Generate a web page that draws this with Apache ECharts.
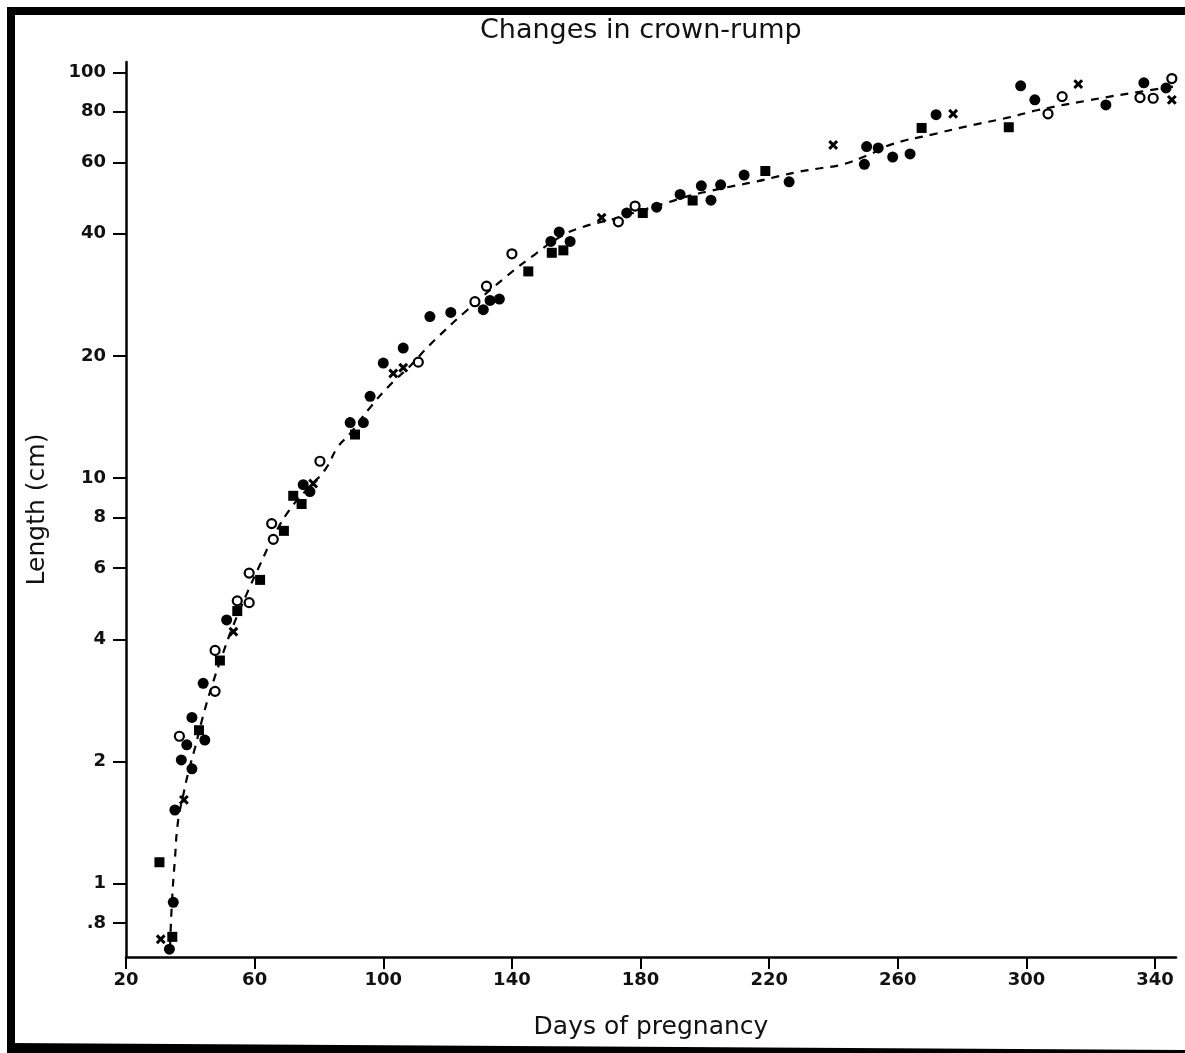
<!DOCTYPE html>
<html>
<head>
<meta charset="utf-8">
<title>Changes in crown-rump</title>
<script src="https://cdn.jsdelivr.net/npm/echarts@6/dist/echarts.min.js"></script>
<style>
  html, body { margin: 0; padding: 0; background: #fff; }
  #chart { width: 1185px; height: 1053px; }
</style>
</head>
<body>
<div id="chart"></div>
<script>
// Axis ticks
const dayTicks = [20, 60, 100, 140, 180, 220, 260, 300, 340];
const lengthTicks = [0.8, 1, 2, 4, 6, 8, 10, 20, 40, 60, 80, 100];

// Measurements: [day of pregnancy, crown-rump length (cm)]
const filledCircles = [
  [33.5, 0.69], [34.7, 0.90], [35.2, 1.52], [37.2, 2.02], [38.9, 2.20], [40.5, 1.92],
  [44.5, 2.26], [40.5, 2.57], [44.0, 3.12], [51.3, 4.47], [75.1, 9.63], [77.2, 9.26],
  [89.7, 13.7], [93.8, 13.7], [95.9, 15.9], [100.0, 19.2], [106.2, 20.9], [114.5, 25.0],
  [121.0, 25.6], [131.1, 26.0], [133.2, 27.4], [136.1, 27.6], [152.1, 38.3], [154.7, 40.4],
  [158.1, 38.3], [175.7, 45.0], [185.0, 46.5], [192.3, 50.0], [198.9, 52.5], [201.9, 48.4],
  [204.9, 52.8], [212.2, 55.8], [226.2, 53.7], [249.6, 59.3], [250.3, 65.6], [253.9, 65.1],
  [258.4, 61.8], [263.8, 62.9], [271.9, 78.6], [298.2, 92.6], [302.6, 85.5], [324.7, 83.1],
  [336.5, 94.2], [343.4, 91.5]
];
const filledSquares = [
  [30.4, 1.13], [34.4, 0.74], [42.7, 2.39], [49.2, 3.55], [54.6, 4.70], [61.7, 5.61],
  [69.1, 7.41], [74.6, 8.63], [72.0, 9.04], [91.2, 12.8], [145.1, 32.3], [152.4, 35.9],
  [156.0, 36.4], [180.7, 45.0], [196.2, 48.3], [218.8, 57.1], [267.4, 72.9], [294.5, 73.2]
];
const openCircles = [
  [36.6, 2.31], [47.7, 2.98], [47.7, 3.76], [54.6, 4.98], [58.3, 4.93], [58.3, 5.83],
  [65.3, 7.72], [65.8, 7.06], [80.3, 11.0], [110.9, 19.3], [128.5, 27.2], [132.1, 29.7],
  [140.0, 35.7], [173.1, 42.8], [178.3, 46.8], [306.7, 79.0], [311.1, 87.1], [335.3, 86.6],
  [339.4, 86.3], [345.2, 96.5]
];
const stars = [
  [30.8, 0.73], [38.0, 1.61], [53.4, 4.18], [78.2, 9.69], [103.1, 18.1], [106.2, 18.7],
  [167.9, 43.8], [239.9, 66.2], [277.2, 79.0], [316.1, 93.5], [345.2, 85.5]
];

// Fitted growth curve (dashed)
const growthCurve = [
  [33.7, 0.70], [34.3, 0.905], [35.2, 1.147], [36.2, 1.43], [37.7, 1.64], [39.3, 1.87],
  [41.5, 2.17], [43.9, 2.58], [46.7, 3.07], [49.9, 3.65], [53.3, 4.32], [57.3, 5.13],
  [61.7, 6.12], [66.3, 7.28], [71.6, 8.50], [77.2, 9.54], [81.9, 10.48], [85.9, 11.93],
  [89.7, 12.87], [95.6, 14.82], [102.1, 16.96], [108.3, 18.86], [113.0, 20.7], [117.6, 22.5],
  [124.8, 25.4], [138.5, 31.5], [147.2, 35.6], [155.0, 39.3], [161.8, 41.5], [172.7, 43.7],
  [178.9, 45.3], [188.2, 47.7], [194.8, 49.5], [201.6, 51.0], [208.7, 52.4], [215.6, 53.7],
  [222.4, 55.3], [229.0, 56.8], [235.8, 58.0], [242.6, 59.2], [251.3, 62.8], [258.5, 66.6],
  [270.9, 70.3], [281.5, 73.6], [294.9, 77.5], [303.3, 80.6], [319.8, 85.4], [336.2, 89.8],
  [346.2, 92.3]
];

const FONT = "'DejaVu Sans', 'Liberation Sans', sans-serif";
// thick-armed cross, drawn as an "x" star
const STAR = 'path://M-3,-11L3,-11L3,-3L11,-3L11,3L3,3L3,11L-3,11L-3,3L-11,3L-11,-3L-3,-3Z';

const chart = echarts.init(document.getElementById('chart'), null, { renderer: 'canvas' });

chart.setOption({
  backgroundColor: '#ffffff',
  animation: false,
  title: {
    text: 'Changes in crown-rump',
    left: 475,
    top: 12,
    textStyle: { fontFamily: FONT, fontSize: 27, fontWeight: 'normal', color: '#111' }
  },
  grid: { left: 126, right: 9, top: 62, bottom: 96, containLabel: false },
  xAxis: {
    type: 'value',
    min: 20,
    max: 346.5,
    name: 'Days of pregnancy',
    nameLocation: 'middle',
    nameGap: 58,
    nameTextStyle: { fontFamily: FONT, fontSize: 25, color: '#111' },
    axisLine: { show: true, lineStyle: { color: '#000', width: 2.5 } },
    axisTick: { show: true, inside: false, length: 12, lineStyle: { color: '#000', width: 2 }, customValues: dayTicks },
    axisLabel: {
      customValues: dayTicks,
      margin: 14,
      fontFamily: FONT, fontSize: 18, fontWeight: 'bold', color: '#111'
    },
    splitLine: { show: false }
  },
  yAxis: {
    type: 'log',
    logBase: 10,
    min: 0.66,
    max: 106,
    name: 'Length (cm)',
    nameLocation: 'middle',
    nameGap: 76,
    nameRotate: 90,
    nameTextStyle: { fontFamily: FONT, fontSize: 25, color: '#111' },
    axisLine: { show: true, onZero: false, lineStyle: { color: '#000', width: 2.5 } },
    axisTick: { show: true, inside: false, length: 13, lineStyle: { color: '#000', width: 2 }, customValues: lengthTicks },
    axisLabel: {
      customValues: lengthTicks,
      margin: 20,
      fontFamily: FONT, fontSize: 18, fontWeight: 'bold', color: '#111',
      formatter: function (v) { return v < 1 ? String(v).replace(/^0/, '') : String(v); }
    },
    minorTick: { show: false },
    splitLine: { show: false }
  },
  series: [
    {
      name: 'fit',
      type: 'line',
      data: growthCurve,
      showSymbol: false,
      smooth: 0.5,
      lineStyle: { color: '#000', width: 2.2, type: [8, 7] },
      z: 2
    },
    {
      name: 'filled circle',
      type: 'scatter',
      data: filledCircles,
      symbol: 'circle',
      symbolSize: 11,
      itemStyle: { color: '#000', opacity: 1 },
      z: 3
    },
    {
      name: 'filled square',
      type: 'scatter',
      data: filledSquares,
      symbol: 'rect',
      symbolSize: 10,
      itemStyle: { color: '#000', opacity: 1 },
      z: 3
    },
    {
      name: 'open circle',
      type: 'scatter',
      data: openCircles,
      symbol: 'circle',
      symbolSize: 9,
      itemStyle: { color: '#fff', borderColor: '#000', borderWidth: 2.2, opacity: 1 },
      z: 3
    },
    {
      name: 'star',
      type: 'scatter',
      data: stars,
      symbol: STAR,
      symbolSize: 11,
      symbolRotate: 45,
      itemStyle: { color: '#000', opacity: 1 },
      z: 3
    }
  ],
  graphic: [
    // scanned page frame
    { type: 'rect', shape: { x: 7, y: 7, width: 1178, height: 8 }, style: { fill: '#000' }, silent: true },
    { type: 'rect', shape: { x: 7, y: 7, width: 8, height: 1046 }, style: { fill: '#000' }, silent: true },
    { type: 'polygon', shape: { points: [[7, 1043], [1185, 1050], [1185, 1053], [7, 1053]] }, style: { fill: '#000' }, silent: true }
  ]
});
</script>
</body>
</html>
